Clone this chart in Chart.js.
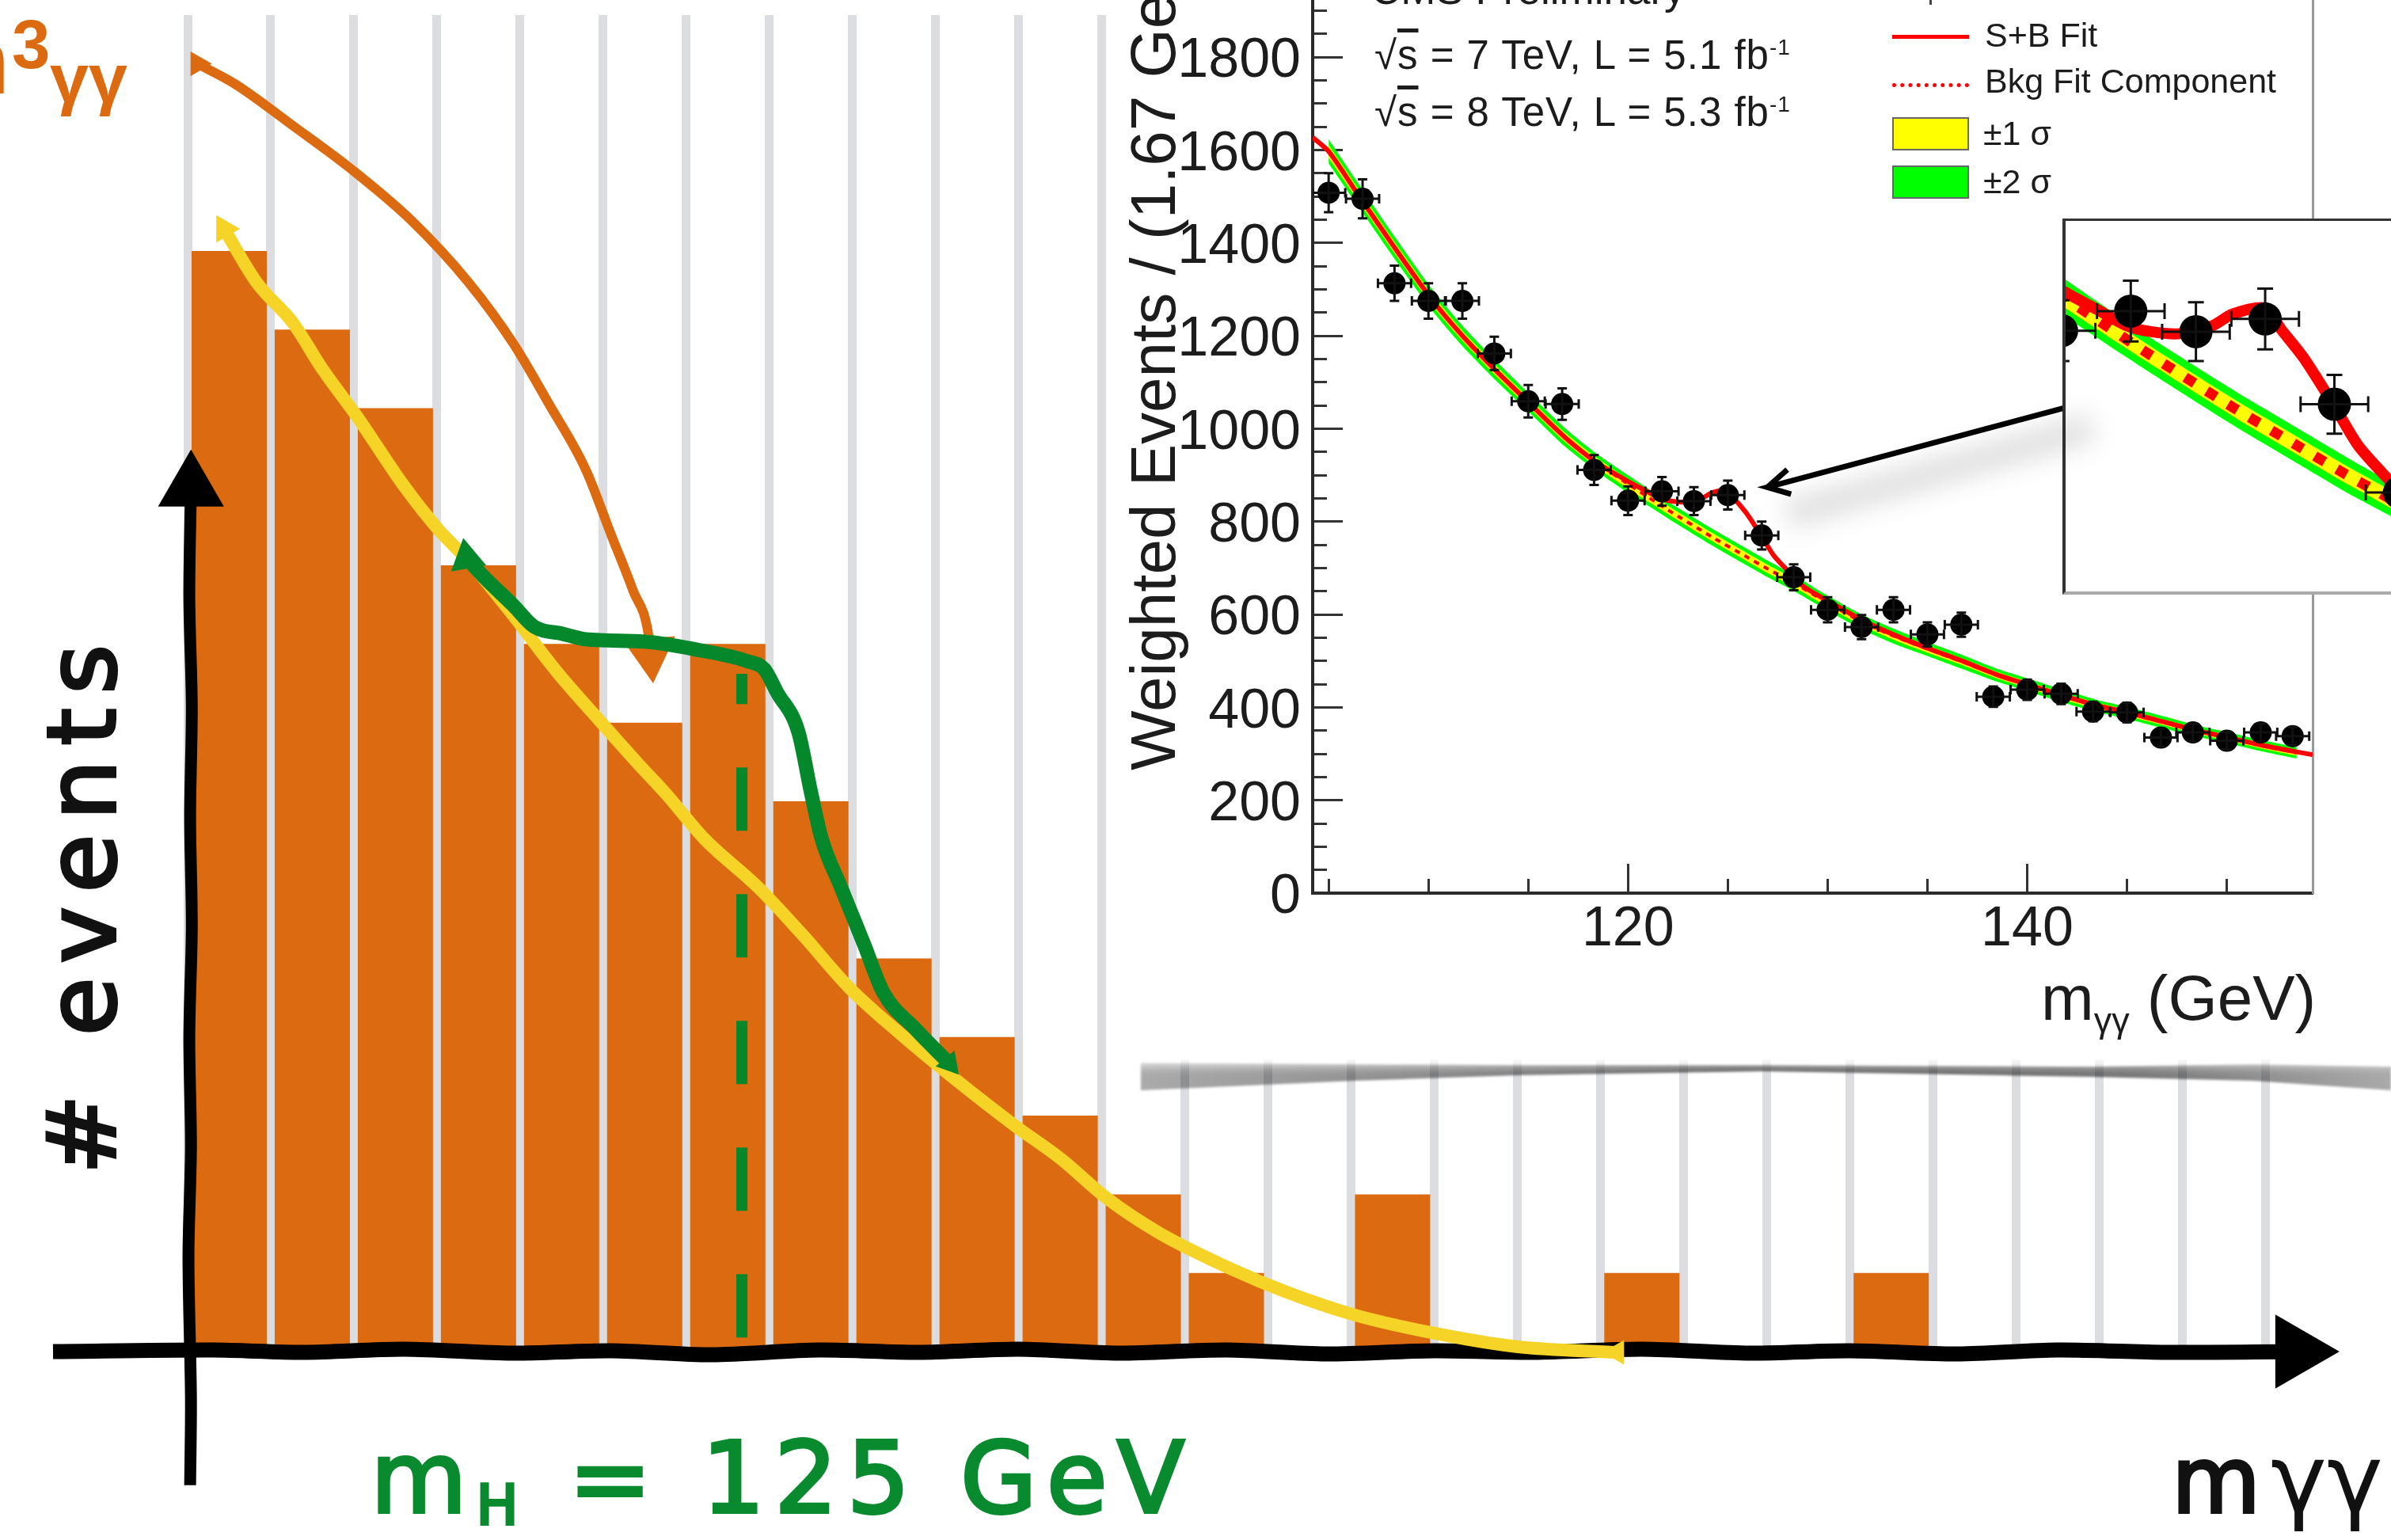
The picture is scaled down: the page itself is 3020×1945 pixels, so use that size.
<!DOCTYPE html>
<html>
<head>
<meta charset="utf-8">
<title>H to gamma gamma</title>
<script src="https://cdn.jsdelivr.net/npm/chart.js@4"></script>
<style>
html, body { margin: 0; padding: 0; background: #fff; }
#stage { position: relative; width: 3020px; height: 1945px; overflow: hidden; background: #fff; }
canvas { position: absolute; left: 0; top: 0; }
.t { position: absolute; white-space: nowrap; line-height: 1; font-family: "Liberation Sans", sans-serif; color: #1c1c1c; }
.hand { font-family: "DejaVu Sans", sans-serif; -webkit-text-stroke: 4px currentColor; }
.rot { transform-origin: 0 0; transform: rotate(-90deg); }
#panel { position: absolute; left: 1415px; top: 0; width: 1605px; height: 1338px; background: #fff; box-shadow: 0 0 14px 6px #fff; }
#inset { position: absolute; left: 2605px; top: 276px; width: 420px; height: 475px; background: #fff; box-sizing: border-box;
  border-left: 4px solid #333; border-top: 3px solid #333; border-bottom: 4px solid #aaa; }
#smear { position: absolute; left: 0; top: 0; width: 3020px; height: 1945px; filter: blur(1.5px); mix-blend-mode: multiply; }
#smear div { position: absolute; left: 0; top: 0; width: 3020px; height: 1945px;
  background: linear-gradient(90deg, #aaa 1441px, #8c8c8c 1800px, #5c5c5c 2200px, #777 2700px, #aaa 3020px);
  clip-path: polygon(1441px 1342px, 1917px 1345px, 2226px 1345px, 2640px 1347px, 2846px 1344px, 3020px 1347px, 3020px 1377px, 2846px 1365px, 2640px 1360px, 2226px 1353px, 1917px 1358px, 1710px 1365px, 1441px 1377px); }
#arrowShadow { position: absolute; left: 2250px; top: 578px; width: 400px; height: 34px; background: rgba(0,0,0,.13);
  filter: blur(16px); transform: rotate(-16deg); }
.swatch { position: absolute; left: 2390px; width: 97px; height: 42px; box-sizing: border-box; border: 2px solid #666; }
</style>
</head>
<body>
<div id="stage">
  <canvas id="sketch" width="3020" height="1945"></canvas>
  <div class="t" style="left:-93px;top:18px;font-size:118px;font-weight:bold;color:#dc6a10">m</div>
  <div class="t" style="left:15px;top:12px;font-size:87px;font-weight:bold;color:#dc6a10">3</div>
  <div class="t" style="left:63px;top:55px;font-size:88px;font-weight:bold;color:#dc6a10">γγ</div>
  <div id="smear"><div></div></div>
  <div id="panel"></div>
  <canvas id="cms" width="3020" height="1945"></canvas>
  <div id="inset"></div>
  <div id="arrowShadow"></div>
  <canvas id="zoomed" width="3020" height="1945"></canvas>

  <div class="t hand rot" style="left:44px;top:1483px;font-size:120px;letter-spacing:18px;color:#111"># events</div>
  <div class="t hand" style="left:468px;top:1804px;font-size:125px;letter-spacing:12px;color:#0a8a2f">m<span style="font-size:70px;position:relative;top:15px">H</span> = 125 GeV</div>
  <div class="t hand" style="left:2743px;top:1813px;font-size:115px;color:#111">m</div>
  <div class="t" style="left:2868px;top:1808px;font-size:120px;font-family:'DejaVu Sans';color:#111">γγ</div>

  <div class="t rot" style="left:1417px;top:973px;font-size:80px">Weighted Events / (1.67 GeV)</div>
  <div class="t" style="left:2578px;top:1221px;font-size:80px">m<span style="font-size:45px;position:relative;top:16px">γγ</span> (GeV)</div>
  <div class="t" style="left:1731px;top:-40px;font-size:53px">CMS Preliminary</div>
  <div class="t" style="left:1736px;top:44px;font-size:51px;letter-spacing:1px">√<span style="text-decoration:overline">s</span> = 7 TeV, L = 5.1 fb<sup style="font-size:28px;line-height:0">-1</sup></div>
  <div class="t" style="left:1736px;top:116px;font-size:51px;letter-spacing:1px">√<span style="text-decoration:overline">s</span> = 8 TeV, L = 5.3 fb<sup style="font-size:28px;line-height:0">-1</sup></div>

  <div style="position:absolute;left:2437px;top:0;width:3px;height:6px;background:#444"></div>
  <div style="position:absolute;left:2390px;top:44px;width:97px;height:5px;background:#f00"></div>
  <div style="position:absolute;left:2390px;top:105px;width:97px;border-top:5px dotted #f00"></div>
  <div class="swatch" style="top:148px;background:#ff0"></div>
  <div class="swatch" style="top:209px;background:#0f0"></div>
  <div class="t" style="left:2507px;top:23px;font-size:43px">S+B Fit</div>
  <div class="t" style="left:2507px;top:81px;font-size:43px">Bkg Fit Component</div>
  <div class="t" style="left:2505px;top:147px;font-size:43px">±1 σ</div>
  <div class="t" style="left:2505px;top:208px;font-size:43px">±2 σ</div>
</div>

<script>
// hand drawn histogram: events per bin
const binLabels = ['1','2','3','4','5','6','7','8','9','10','11','12','13','14','15','16','17','18','19','20','21','22','23','24','25'];
const binCounts = [14,13,12,10,9,8,9,7,5,4,3,2,1,0,2,0,0,1,0,0,1,0,0,0,0];

// sketched curves, x in bins, y in events
const yellowX = [0.44,0.83,1.27,1.62,2.06,2.59,3.03,3.38,3.92,4.44,4.97,5.41,5.76,6.22,6.86,7.40,7.96,8.59,9.23,9.96,10.51,11.05,11.69,12.56,13.24,14.03,15.02,16.01,17.2];
const yellowY = [14.28,13.60,13.08,12.50,11.86,11.03,10.44,10.06,9.36,8.65,8.01,7.49,7.09,6.52,5.91,5.30,4.63,4.03,3.47,2.87,2.45,1.96,1.51,1.05,0.75,0.47,0.23,0.06,-0.01];
const orangeX = [0.12,0.56,1.27,1.97,2.68,3.38,3.92,4.35,4.79,5.10,5.36,5.55,5.57];
const orangeY = [16.38,16.13,15.59,15.04,14.40,13.60,12.82,12.05,11.22,10.38,9.68,9.09,8.88];
const greenX = [3.36,3.55,3.92,4.17,4.51,4.79,5.50,6.12,6.74,6.94,7.09,7.35,7.50,7.63,7.86,8.14,8.37,8.77,9.17];
const greenY = [10.09,9.87,9.49,9.22,9.13,9.06,9.03,8.93,8.78,8.68,8.39,7.88,7.12,6.52,5.91,5.18,4.57,4.09,3.66];
const massLineX = [6.67,6.67];
const massLineY = [0.18,8.62];
// the line skips everything left of the first bin except the last point before it
const axisXx = [-1.62,0.3,1.4,2.6,3.9,5.1,6.3,7.6,8.8,10,11.2,12.5,13.7,15,16.2,17.5,18.8,20,21.3,22.5,23.8,25.38];
const axisXy = [0,0.02,-0.01,0.03,-0.02,0.01,-0.04,0.02,-0.01,0.03,-0.02,0.02,-0.03,0.01,-0.01,0.03,-0.02,0.01,-0.03,0.02,-0.01,0];
const axisYx = [0.04,0.02,0.05,0.03,0.05,0.02,0.04,0.01,0.04,0.03];
const axisYy = [10.99,9.6,8.2,6.8,5.4,4,2.6,1.2,-0.6,-1.7];

// CMS diphoton mass plot
const massX = [105.0,106.7,108.3,110.0,111.7,113.3,115.0,116.7,118.3,120.0,121.7,123.3,125.0,126.7,128.3,130.0,131.7,133.3,135.0,136.7,138.3,140.0,141.7,143.3,145.0,146.7,148.3,150.0,151.7,153.3];
const eventsY = [1508,1495,1313,1275,1275,1162,1059,1053,911,845,865,844,857,770,680,610,573,610,557,578,423,438,429,391,389,335,346,328,346,338];
const eventsErr = [42,42,38,38,38,36,35,34,32,31,31,30,31,30,28,27,26,27,26,26,22,22,22,21,21,19,19,19,19,19];
const massHalfBin = 0.83;
const fitX = [104.2,105,106.3,108.3,110.1,111.7,113.4,115.1,116.8,118.4,120.1,120.9,121.6,122.2,122.9,123.7,124.2,125.0,125.4,125.95,126.7,127.3,128.1,128.8,130.1,131.8,133.5,135.1,136.8,138.5,140.2,141.8,143.5,145.2,146.9,148.5,150.2,151.9,154.3];
const fitY = [1627,1597,1515,1390,1282,1200,1124,1053,983,928,884,866,850,844,842,850,862,868,846,817,768,727,690,660,627,586,553,526,499,470,447,425,404,387,368,350,334,317,298];
const bkgX = [105,106.3,108.3,110.1,111.7,113.4,115.1,116.8,118.4,120.1,122,124.2,125.9,127,128.3,130.1,131.8,133.5,135.1,136.8,138.5,140.2,141.8,143.5,145.2,146.9,148.5,150.2,151.9,153.5];
const bkgY = [1597,1515,1390,1282,1200,1124,1053,983,928,878,825,767,725,698,668,622,582,550,524,497,469,446,424,403,386,367,349,333,316,302];
const sigma1 = [14,13,12,12,11,11,10,10,10,10,9,9,9,9,9,8,8,8,8,7,7,7,7,7,7,6,6,6,6,6];
const sigma2 = [26,25,24,23,22,21,20,20,19,19,18,18,18,18,17,16,16,16,15,15,14,14,14,13,13,13,12,12,12,12];
const arrowX = [127.98,126.98,128.17,126.98,141.87];
const arrowY = [912,874,859,874,1045];

const xMajorTicks = [120,140];
const xMinorTicks = [105,110,115,120,125,130,135,140,145,150];
const yMajorTicks = [0,200,400,600,800,1000,1200,1400,1600,1800];
const yMinorTicks = [0,50,100,150,200,250,300,350,400,450,500,550,600,650,700,750,800,850,900,950,1000,1050,1100,1150,1200,1250,1300,1350,1400,1450,1500,1550,1600,1650,1700,1750,1800,1850,1900];

const zip = (xs, ys) => xs.map((x, i) => ({ x: x, y: ys[i] }));

// axes keep a fixed room, the chart area is set with layout.padding
function fixedRoom(room) {
    return scale => {
        if (scale.isHorizontal()) scale.height = room; else scale.width = room;
        scale.paddingTop = scale.paddingBottom = scale.paddingLeft = scale.paddingRight = 0;
    };
}
const noRoom = fixedRoom(0);

function sketchLine(xs, ys, color, width, extra) {
    return Object.assign({
        type: 'line', xAxisID: 'x2', data: zip(xs, ys), borderColor: color, backgroundColor: color,
        borderWidth: width, cubicInterpolationMode: 'monotone', clip: false, pointRadius: 0, pointBorderWidth: 0, pointStyle: 'triangle'
    }, extra);
}

const ends = (n, first, last) => Array.from({ length: n }, (_, i) => i === 0 ? first : i === n - 1 ? last : 0);

new Chart(document.getElementById('sketch'), {
    type: 'bar',
    data: {
        labels: binLabels,
        datasets: [
            sketchLine(greenX, greenY, '#05882c', 18, { pointRadius: ends(greenX.length, 26, 18), pointRotation: ends(greenX.length, -10, 140) }),
            sketchLine(yellowX, yellowY, '#f5d327', 16, { pointRadius: ends(yellowX.length, 20, 18), pointRotation: ends(yellowX.length, -30, 270) }),
            sketchLine(orangeX, orangeY, '#dc6a10', 12, { pointRadius: ends(orangeX.length, 18, 38), pointRotation: ends(orangeX.length, -30, 175) }),
            sketchLine(massLineX, massLineY, '#05882c', 14, { borderDash: [80, 80], cubicInterpolationMode: 'default' }),
            sketchLine(axisYx, axisYy, '#000', 15, { pointRadius: ends(axisYx.length, 48, 0), cubicInterpolationMode: 'default', tension: 0.3 }),
            sketchLine(axisXx, axisXy, '#000', 19, { pointRadius: ends(axisXx.length, 0, 54), pointRotation: 90, cubicInterpolationMode: 'default', tension: 0.3 }),
            { data: binCounts, backgroundColor: '#dc6a10', barPercentage: 0.905, categoryPercentage: 1, grouped: false }
        ]
    },
    options: {
        responsive: false, animation: false, events: [],
        layout: { autoPadding: false, padding: { left: 237, right: 159, top: 19, bottom: 238 } },
        plugins: { legend: { display: false }, tooltip: { enabled: false } },
        scales: {
            x: { offset: true, afterFit: noRoom, border: { display: false }, ticks: { display: false },
                 grid: { offset: true, color: '#dcdde0', lineWidth: 11, drawTicks: false } },
            x2: { type: 'linear', display: false, offset: false, min: 0, max: 25, afterFit: noRoom },
            y: { display: false, min: 0, max: 17, afterFit: noRoom }
        }
    }
});

const errorBars = {
    id: 'errorBars',
    afterDatasetsDraw(chart, args, opts) {
        const { ctx, chartArea: a, scales: { x, y } } = chart;
        ctx.save();
        ctx.beginPath();
        ctx.rect(a.left, a.top, a.right - a.left, a.bottom - a.top);
        ctx.clip();
        ctx.strokeStyle = '#111';
        ctx.lineWidth = opts.width;
        ctx.beginPath();
        massX.forEach((m, i) => {
            const px = x.getPixelForValue(m), py = y.getPixelForValue(eventsY[i]);
            const lo = y.getPixelForValue(eventsY[i] - eventsErr[i]), hi = y.getPixelForValue(eventsY[i] + eventsErr[i]);
            const l = x.getPixelForValue(m - massHalfBin), r = x.getPixelForValue(m + massHalfBin);
            ctx.moveTo(px, lo); ctx.lineTo(px, hi);
            ctx.moveTo(px - opts.cap, lo); ctx.lineTo(px + opts.cap, lo);
            ctx.moveTo(px - opts.cap, hi); ctx.lineTo(px + opts.cap, hi);
            ctx.moveTo(l, py); ctx.lineTo(r, py);
            ctx.moveTo(l, py - opts.cap); ctx.lineTo(l, py + opts.cap);
            ctx.moveTo(r, py - opts.cap); ctx.lineTo(r, py + opts.cap);
        });
        ctx.stroke();
        ctx.restore();
    }
};

// first dataset is painted last, so the list runs from top to bottom
function massDatasets(marker, lineWidth, dash, dashWidth) {
    const band = (vals, sign, color) => ({
        data: bkgX.map((x, i) => ({ x: x, y: bkgY[i] + sign * vals[i] })),
        borderWidth: 0, pointRadius: 0, tension: 0.2, backgroundColor: color, fill: sign > 0 ? '+1' : false
    });
    return [
        { data: zip(massX, eventsY), showLine: false, pointRadius: marker, pointBackgroundColor: '#000', pointBorderWidth: 0 },
        { data: zip(fitX, fitY), borderColor: '#f00', borderWidth: lineWidth, pointRadius: 0, tension: 0.25 },
        { data: zip(bkgX, bkgY), borderColor: '#f00', borderWidth: dashWidth, borderDash: dash, pointRadius: 0, tension: 0.2 },
        band(sigma1, 1, '#ff0'), band(sigma1, -1, '#ff0'),
        band(sigma2, 1, '#0f0'), band(sigma2, -1, '#0f0')
    ];
}

function tickList(values) {
    return scale => { scale.ticks = values.map(v => ({ value: v })); };
}

// ticks point into the plot, so the label padding has to make up for the negative length
function inwardTicks(values, length, room, gap, shift, extra) {
    return Object.assign({
        type: 'linear', afterFit: fixedRoom(room), afterBuildTicks: tickList(values),
        border: { display: true, color: '#2a2a2a', width: 4 },
        grid: { drawOnChartArea: false, tickLength: -length, tickColor: '#333', tickWidth: 3 },
        ticks: room
            ? { padding: length + gap, labelOffset: shift, autoSkip: false, maxRotation: 0, color: '#1c1c1c', font: { family: 'Liberation Sans', size: 70 }, callback: v => String(v) }
            : { display: false, autoSkip: false }
    }, extra);
}

const massRange = { min: 104.2, max: 154.3 };
const eventRange = { min: 0, max: 1923 };

new Chart(document.getElementById('cms'), {
    type: 'line',
    data: {
        datasets: [
            { data: zip(arrowX, arrowY), borderColor: '#000', borderWidth: 7, pointRadius: 0, clip: false }
        ].concat(massDatasets(14, 6, [7, 7], 4))
    },
    plugins: [errorBars],
    options: {
        responsive: false, animation: false, events: [],
        layout: { autoPadding: false, padding: { left: 1458, right: 99, top: 0, bottom: 717 } },
        plugins: { legend: { display: false }, tooltip: { enabled: false }, errorBars: { width: 3, cap: 6 } },
        scales: {
            // the tick-only axes come first, the layout stacks them next to the plot
            xMinor: inwardTicks(xMinorTicks, 18, 0, 0, 0, Object.assign({ position: 'bottom' }, massRange)),
            x: inwardTicks(xMajorTicks, 37, 100, 5, 0, Object.assign({ position: 'bottom' }, massRange)),
            yMinor: inwardTicks(yMinorTicks, 18, 0, 0, 0, Object.assign({ position: 'left' }, eventRange)),
            y: inwardTicks(yMajorTicks, 38, 200, 15, 6, Object.assign({ position: 'left' }, eventRange)),
            yFrame: { type: 'linear', position: 'right', afterFit: noRoom, min: 0, max: 1923,
                      border: { display: true, color: '#999', width: 3 }, ticks: { display: false }, grid: { display: false } }
        }
    }
});

new Chart(document.getElementById('zoomed'), {
    type: 'line',
    data: { datasets: massDatasets(21, 14, [14, 18], 13) },
    plugins: [errorBars],
    options: {
        responsive: false, animation: false, events: [],
        layout: { autoPadding: false, padding: { left: 2609, right: 0, top: 279, bottom: 1198 } },
        plugins: { legend: { display: false }, tooltip: { enabled: false }, errorBars: { width: 3, cap: 10 } },
        scales: {
            x: { type: 'linear', display: false, min: 120.1, max: 128.09 },
            y: { type: 'linear', display: false, min: 579, max: 957 }
        }
    }
});
</script>
</body>
</html>
